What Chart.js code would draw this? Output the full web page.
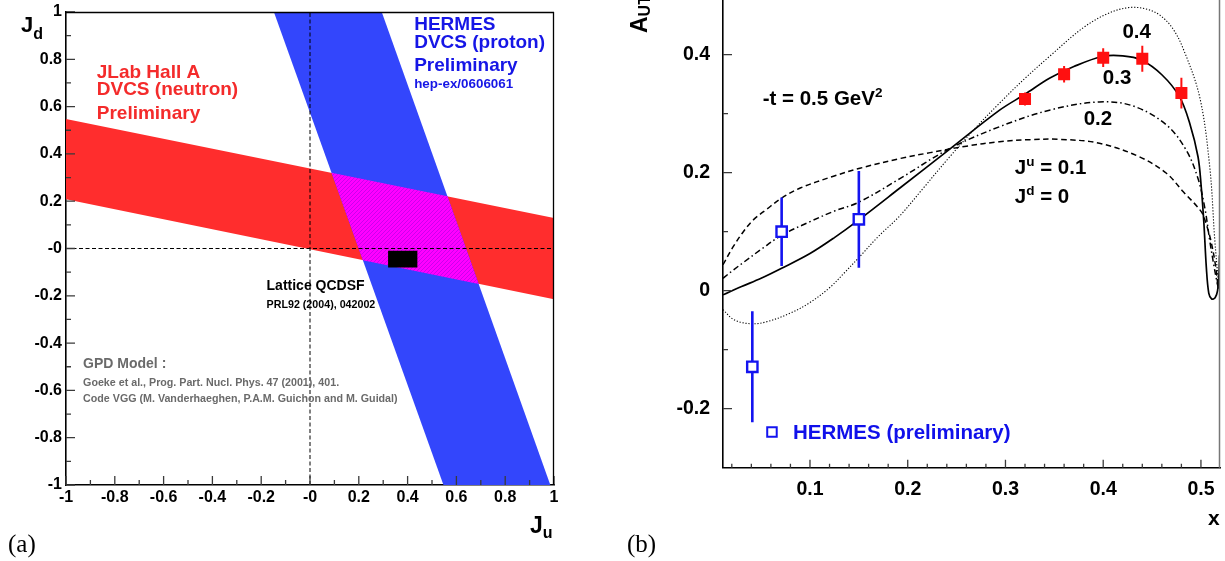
<!DOCTYPE html>
<html>
<head>
<meta charset="utf-8">
<title>DVCS constraints on Ju, Jd and A_UT versus x</title>
<script src="https://cdn.jsdelivr.net/npm/chart.js@4.4.1/dist/chart.umd.min.js"></script>
<style>
  html, body { margin: 0; padding: 0; background: #fff; }
  #page { position: relative; width: 1225px; height: 561px; overflow: hidden; }
  #panelA { position: absolute; left: 0; top: 0; }
  #panelB { position: absolute; left: 610px; top: 0; }
</style>
</head>
<body>
<div id="page">
  <canvas id="panelA" width="610" height="561"></canvas>
  <canvas id="panelB" width="615" height="561"></canvas>
</div>
<script>
const SANS = '"Liberation Sans", Arial, Helvetica, sans-serif';
const SERIF = '"Liberation Serif", "DejaVu Serif", serif';

// ---------- Panel (a): the (Ju, Jd) plane ----------
const juTicks = [-1, -0.8, -0.6, -0.4, -0.2, 0, 0.2, 0.4, 0.6, 0.8, 1];
const juTickLabels = ['-1', '-0.8', '-0.6', '-0.4', '-0.2', '-0', '0.2', '0.4', '0.6', '0.8', '1'];
const jdTicks = [-1, -0.8, -0.6, -0.4, -0.2, 0, 0.2, 0.4, 0.6, 0.8, 1];
const jdTickLabels = ['-1', '-0.8', '-0.6', '-0.4', '-0.2', '-0', '0.2', '0.4', '0.6', '0.8', '1'];

// JLab Hall A (neutron) band, edges as [Ju, Jd] at Ju = -1 and Ju = 1
const jlabUpperEdge = [[-1, 0.548], [1, 0.129]];
const jlabLowerEdge = [[-1, 0.208], [1, -0.215]];
// HERMES (proton) band, edges as [Ju, Jd] at Jd = 1 and Jd = -1
const hermesLeftEdge = [[-0.148, 1], [0.547, -1]];
const hermesRightEdge = [[0.294, 1], [0.985, -1]];
// Lattice QCDSF box
const latticeJu = [0.32, 0.44];
const latticeJd = [-0.08, -0.01];

// ---------- Panel (b): A_UT versus x at -t = 0.5 GeV^2 ----------
const xTicks = [0.1, 0.2, 0.3, 0.4, 0.5];
const xTickLabels = ['0.1', '0.2', '0.3', '0.4', '0.5'];
const autTicks = [-0.2, 0, 0.2, 0.4];
const autTickLabels = ['-0.2', '0', '0.2', '0.4'];

// HERMES (preliminary), open squares
const hermesX = [0.041, 0.071, 0.150];
const hermesAUT = [-0.129, 0.100, 0.121];
const hermesErr = [0.094, 0.058, 0.082];

// filled red squares
const solidSqX = [0.32, 0.36, 0.40, 0.44, 0.48];
const solidSqAUT = [0.325, 0.367, 0.395, 0.393, 0.335];
const solidSqErr = [0.011, 0.014, 0.016, 0.022, 0.026];

// VGG model curves, Jd = 0
const ju01X = [0.011, 0.0216, 0.0318, 0.042, 0.0557, 0.071, 0.09, 0.124, 0.151, 0.192, 0.223, 0.26, 0.294, 0.325, 0.355, 0.396, 0.437, 0.4647, 0.4817, 0.5003, 0.505, 0.510, 0.5151, 0.5175];
const ju01AUT = [0.044, 0.075, 0.100, 0.120, 0.138, 0.157, 0.174, 0.194, 0.2075, 0.224, 0.234, 0.245, 0.2525, 0.256, 0.2566, 0.25, 0.227, 0.199, 0.168, 0.134, 0.115, 0.086, 0.041, 0.005];

const ju02X = [0.011, 0.02, 0.032, 0.05, 0.071, 0.1, 0.125, 0.15, 0.192, 0.243, 0.294, 0.345, 0.396, 0.4307, 0.4647, 0.485, 0.497, 0.504, 0.509, 0.513, 0.516, 0.518];
const ju02AUT = [0.021, 0.033, 0.048, 0.07, 0.094, 0.117, 0.135, 0.15, 0.19, 0.241, 0.278, 0.306, 0.32, 0.313, 0.281, 0.238, 0.19, 0.14, 0.085, 0.045, 0.018, 0.003];

const ju03X = [0.011, 0.03, 0.05, 0.071, 0.1, 0.125, 0.15, 0.192, 0.243, 0.294, 0.32, 0.345, 0.37, 0.399, 0.42, 0.439, 0.46, 0.478, 0.4885, 0.497, 0.5003, 0.503, 0.5055, 0.508, 0.511, 0.5145, 0.517, 0.5185, 0.519];
const ju03AUT = [-0.007, 0.007, 0.021, 0.038, 0.063, 0.09, 0.12, 0.174, 0.240, 0.306, 0.333, 0.360, 0.380, 0.397, 0.398, 0.391, 0.366, 0.329, 0.284, 0.227, 0.176, 0.115, 0.04, -0.004, -0.014, -0.012, 0.0, 0.03, 0.06];

const ju04X = [0.011, 0.022, 0.039, 0.055, 0.08, 0.1, 0.12, 0.135, 0.151, 0.17, 0.192, 0.215, 0.243, 0.27, 0.294, 0.32, 0.345, 0.379, 0.405, 0.427, 0.445, 0.458, 0.47, 0.481, 0.4986, 0.509, 0.514, 0.517, 0.5185];
const ju04AUT = [-0.032, -0.049, -0.056, -0.053, -0.038, -0.02, 0.005, 0.03, 0.058, 0.092, 0.127, 0.172, 0.227, 0.277, 0.318, 0.36, 0.397, 0.445, 0.47, 0.48, 0.477, 0.467, 0.447, 0.4136, 0.329, 0.21, 0.09, 0.03, 0.003];

// ---------- helpers ----------
const pts = (xs, ys) => xs.map((x, i) => ({x, y: ys[i]}));
const toXY = pairs => pairs.map(([x, y]) => ({x, y}));

// intersection of two straight edges, each given by two [x, y] points
function cross(e1, e2) {
  const [[x1, y1], [x2, y2]] = e1, [[x3, y3], [x4, y4]] = e2;
  const d = (x1 - x2) * (y3 - y4) - (y1 - y2) * (x3 - x4);
  const a = x1 * y2 - y1 * x2, b = x3 * y4 - y3 * x4;
  return [(a * (x3 - x4) - (x1 - x2) * b) / d, (a * (y3 - y4) - (y1 - y2) * b) / d];
}

function hatchPattern() {
  const c = document.createElement('canvas');
  c.width = c.height = 4;
  const g = c.getContext('2d');
  g.fillStyle = '#ff00ff';
  g.fillRect(0, 0, 4, 4);
  g.strokeStyle = '#b400e8';
  g.lineWidth = 0.7;
  g.beginPath();
  g.moveTo(-1, 5); g.lineTo(5, -1);
  g.stroke();
  return g.createPattern(c, 'repeat');
}

function labelFor(ticks, labels) {
  return v => {
    const i = ticks.findIndex(t => Math.abs(t - v) < 1e-9);
    return i >= 0 ? labels[i] : '';
  };
}

function richText(ctx, parts, x, baseline, color, align) {
  let w = 0;
  parts.forEach(p => { ctx.font = `bold ${p[1]}px ${SANS}`; p.w = ctx.measureText(p[0]).width; w += p.w; });
  let cx = align === 'right' ? x - w : (align === 'center' ? x - w / 2 : x);
  ctx.fillStyle = color;
  ctx.textAlign = 'left';
  ctx.textBaseline = 'alphabetic';
  parts.forEach(p => {
    ctx.font = `bold ${p[1]}px ${SANS}`;
    ctx.fillText(p[0], cx, baseline + (p[2] || 0));
    cx += p.w;
  });
}

// ROOT-style ticks pointing into the frame
const innerTicks = {
  id: 'innerTicks',
  afterDraw(chart, args, o) {
    const {ctx, chartArea: a, scales: {x, y}} = chart;
    ctx.save();
    ctx.strokeStyle = '#3a3a3a';
    ctx.lineWidth = 1.3;
    ctx.beginPath();
    const xs = (vals, len) => vals.forEach(v => { const p = x.getPixelForValue(v); ctx.moveTo(p, a.bottom); ctx.lineTo(p, a.bottom - len); });
    const ys = (vals, len) => vals.forEach(v => { const p = y.getPixelForValue(v); ctx.moveTo(a.left, p); ctx.lineTo(a.left + len, p); });
    xs(o.xMajor, o.xMajorLen); xs(o.xMinor, o.xMinorLen);
    ys(o.yMajor, o.yMajorLen); ys(o.yMinor, o.yMinorLen);
    ctx.stroke();
    // frame edges not carried by an axis
    if (o.frame) {
      ctx.strokeStyle = o.frame.color;
      ctx.lineWidth = o.frame.width;
      ctx.beginPath();
      if (o.frame.top) { ctx.moveTo(a.left, a.top + 0.5); ctx.lineTo(a.right, a.top + 0.5); }
      if (o.frame.right) { ctx.moveTo(a.right - 0.5, a.top); ctx.lineTo(a.right - 0.5, a.bottom); }
      ctx.stroke();
    }
    ctx.restore();
  }
};

// text placed in data coordinates; y is the vertical centre of the capitals
const notes = {
  id: 'notes',
  afterDraw(chart, args, o) {
    const {ctx, scales: {x, y}} = chart;
    ctx.save();
    o.items.forEach(it => {
      const px = x.getPixelForValue(it.x), py = y.getPixelForValue(it.y);
      if (it.box) {
        ctx.strokeStyle = it.color;
        ctx.lineWidth = 2;
        ctx.strokeRect(px - it.box / 2, py - it.box / 2, it.box, it.box);
        return;
      }
      richText(ctx, it.parts, px, py + 0.36 * it.parts[0][1], it.color, 'left');
    });
    ctx.restore();
  }
};

// axis titles and panel tags, placed relative to the frame
const titles = {
  id: 'titles',
  afterDraw(chart, args, o) {
    const {ctx, chartArea: a} = chart;
    ctx.save();
    o.items.forEach(it => {
      const ox = it.from[0] === 'left' ? a.left : a.right;
      const oy = it.from[1] === 'top' ? a.top : a.bottom;
      if (it.serif) {
        ctx.font = `${it.size}px ${SERIF}`;
        ctx.fillStyle = '#000';
        ctx.textAlign = 'left';
        ctx.textBaseline = 'alphabetic';
        ctx.fillText(it.text, ox + it.dx, oy + it.dy);
      } else if (it.rotate) {
        ctx.save();
        ctx.translate(ox + it.dx, oy + it.dy);
        ctx.rotate(-Math.PI / 2);
        richText(ctx, it.parts, 0, 0, '#000', 'left');
        ctx.restore();
      } else {
        richText(ctx, it.parts, ox + it.dx, oy + it.dy, '#000', 'left');
      }
    });
    ctx.restore();
  }
};

// error bars drawn just before the marker dataset that carries them
const errorBars = {
  id: 'errorBars',
  beforeDatasetDraw(chart, args) {
    const ds = chart.data.datasets[args.index];
    if (!ds.errors) return;
    const {ctx, scales: {x, y}} = chart;
    ctx.save();
    ctx.strokeStyle = ds.errorColor;
    ctx.lineWidth = ds.errorWidth;
    ctx.beginPath();
    ds.data.forEach((p, i) => {
      const px = x.getPixelForValue(p.x);
      ctx.moveTo(px, y.getPixelForValue(p.y + ds.errors[i]));
      ctx.lineTo(px, y.getPixelForValue(p.y - ds.errors[i]));
    });
    ctx.stroke();
    ctx.restore();
  }
};

function range(from, to, step, skip) {
  const out = [];
  for (let v = from; v <= to + 1e-9; v += step) {
    const r = Math.round(v * 1000) / 1000;
    if (!skip.some(s => Math.abs(s - r) < 1e-9)) out.push(r);
  }
  return out;
}

// ---------- Panel (a) ----------
const overlap = [
  cross(jlabUpperEdge, hermesLeftEdge),
  cross(jlabUpperEdge, hermesRightEdge),
  cross(jlabLowerEdge, hermesRightEdge),
  cross(jlabLowerEdge, hermesLeftEdge)
];
const shape = { showLine: true, fill: 'shape', borderWidth: 0, pointRadius: 0, tension: 0 };

new Chart(document.getElementById('panelA'), {
  type: 'scatter',
  data: {
    datasets: [
      { ...shape, order: 0, fill: false, borderColor: '#000', borderWidth: 1, borderDash: [4, 2.5],
        data: [{x: -1, y: 0}, {x: 1, y: 0}] },
      { ...shape, order: 0, fill: false, borderColor: '#000', borderWidth: 1, borderDash: [4, 2.5],
        data: [{x: 0, y: -1}, {x: 0, y: 1}] },
      { ...shape, order: 1, backgroundColor: '#000',
        data: toXY([[latticeJu[0], latticeJd[1]], [latticeJu[1], latticeJd[1]], [latticeJu[1], latticeJd[0]], [latticeJu[0], latticeJd[0]], [latticeJu[0], latticeJd[1]]]) },
      { ...shape, order: 2, backgroundColor: hatchPattern(),
        data: toXY([...overlap, overlap[0]]) },
      { ...shape, order: 3, backgroundColor: '#3346fc',
        data: toXY([hermesLeftEdge[0], hermesRightEdge[0], hermesRightEdge[1], hermesLeftEdge[1], hermesLeftEdge[0]]) },
      { ...shape, order: 4, backgroundColor: '#ff2d2d',
        data: toXY([jlabUpperEdge[0], jlabUpperEdge[1], jlabLowerEdge[1], jlabLowerEdge[0], jlabUpperEdge[0]]) }
    ]
  },
  options: {
    responsive: false,
    animation: false,
    events: [],
    layout: { autoPadding: false, padding: { left: 0, top: 12, right: 56, bottom: 0 } },
    plugins: {
      legend: { display: false },
      tooltip: { enabled: false },
      innerTicks: {
        xMajor: juTicks, xMinor: range(-0.9, 0.9, 0.2, []), xMajorLen: 9, xMinorLen: 5,
        yMajor: jdTicks, yMinor: range(-0.9, 0.9, 0.2, []), yMajorLen: 9, yMinorLen: 5,
        frame: { top: true, right: true, color: '#000', width: 1.3 }
      },
      notes: {
        items: [
          { x: -0.874, y: 0.751, color: '#f42b2b', parts: [['JLab Hall A', 19]] },
          { x: -0.874, y: 0.677, color: '#f42b2b', parts: [['DVCS (neutron)', 19]] },
          { x: -0.874, y: 0.577, color: '#f42b2b', parts: [['Preliminary', 19]] },
          { x: 0.427, y: 0.953, color: '#1616e6', parts: [['HERMES', 19]] },
          { x: 0.427, y: 0.877, color: '#1616e6', parts: [['DVCS (proton)', 19]] },
          { x: 0.427, y: 0.780, color: '#1616e6', parts: [['Preliminary', 19]] },
          { x: 0.427, y: 0.697, color: '#1616e6', parts: [['hep-ex/0606061', 13.4]] },
          { x: -0.178, y: -0.154, color: '#000', parts: [['Lattice QCDSF', 14]] },
          { x: -0.178, y: -0.2355, color: '#000', parts: [['PRL92 (2004), 042002', 10.7]] },
          { x: -0.930, y: -0.4835, color: '#6a6a6a', parts: [['GPD Model :', 14]] },
          { x: -0.930, y: -0.563, color: '#6a6a6a', parts: [['Goeke et al., Prog. Part. Nucl. Phys. 47 (2001), 401.', 10.7]] },
          { x: -0.930, y: -0.633, color: '#6a6a6a', parts: [['Code VGG (M. Vanderhaeghen, P.A.M. Guichon and M. Guidal)', 10.7]] }
        ]
      },
      titles: {
        items: [
          { from: ['left', 'top'], dx: -45, dy: 19.7, parts: [['J', 22], ['d', 16, 7]] },
          { from: ['right', 'bottom'], dx: -24, dy: 48, parts: [['J', 23], ['u', 16, 5]] },
          { from: ['left', 'bottom'], dx: -58, dy: 67, serif: true, size: 25, text: '(a)' }
        ]
      }
    },
    scales: {
      x: {
        type: 'linear', min: -1, max: 1, z: 1,
        grid: { display: false, drawTicks: false },
        border: { color: '#000', width: 1.6 },
        afterBuildTicks: s => { s.ticks = juTicks.map(v => ({value: v})); },
        afterFit: s => { s.height = 76; s.paddingLeft = 0; s.paddingRight = 0; },
        ticks: { padding: 3, color: '#000', maxRotation: 0, autoSkip: false,
                 font: { family: SANS, size: 16, weight: 'bold' },
                 callback: labelFor(juTicks, juTickLabels) }
      },
      y: {
        type: 'linear', min: -1, max: 1, z: 1,
        grid: { display: false, drawTicks: false },
        border: { color: '#000', width: 1.6 },
        afterBuildTicks: s => { s.ticks = jdTicks.map(v => ({value: v})); },
        afterFit: s => { s.width = 66; s.paddingTop = 0; s.paddingBottom = 0; },
        ticks: { padding: 4, color: '#000', autoSkip: false,
                 font: { family: SANS, size: 16, weight: 'bold' },
                 callback: labelFor(jdTicks, jdTickLabels) }
      }
    }
  },
  plugins: [innerTicks, notes, titles]
});

// ---------- Panel (b) ----------
const curve = { showLine: true, fill: false, pointRadius: 0, tension: 0.35, borderColor: '#000' };

new Chart(document.getElementById('panelB'), {
  type: 'scatter',
  data: {
    datasets: [
      { label: 'HERMES (preliminary)', data: pts(hermesX, hermesAUT), errors: hermesErr,
        errorColor: '#1414f0', errorWidth: 2.6,
        pointStyle: 'rect', pointRadius: 7.3, backgroundColor: '#fff', borderColor: '#1414f0', borderWidth: 2.4 },
      { label: 'filled squares', data: pts(solidSqX, solidSqAUT), errors: solidSqErr,
        errorColor: '#ff1010', errorWidth: 2,
        pointStyle: 'rect', pointRadius: 8.5, backgroundColor: '#ff1010', borderWidth: 0 },
      { ...curve, label: 'Ju = 0.1', data: pts(ju01X, ju01AUT), borderWidth: 1.5, borderDash: [5.5, 3.5] },
      { ...curve, label: 'Ju = 0.2', data: pts(ju02X, ju02AUT), borderWidth: 1.5, borderDash: [6, 3, 1.5, 3] },
      { ...curve, label: 'Ju = 0.3', data: pts(ju03X, ju03AUT), borderWidth: 1.7 },
      { ...curve, label: 'Ju = 0.4', data: pts(ju04X, ju04AUT), borderWidth: 1.1, borderDash: [1.2, 1.8] }
    ]
  },
  options: {
    responsive: false,
    animation: false,
    events: [],
    layout: { autoPadding: false, padding: { left: 0, top: 0, right: 5, bottom: 0 } },
    plugins: {
      legend: { display: false },
      tooltip: { enabled: false },
      innerTicks: {
        xMajor: xTicks, xMinor: range(0.02, 0.5, 0.02, xTicks), xMajorLen: 8, xMinorLen: 4,
        yMajor: autTicks, yMinor: [-0.1, 0.1, 0.3], yMajorLen: 9, yMinorLen: 5,
        frame: { right: true, color: '#777', width: 1.5 }
      },
      notes: {
        items: [
          { x: 0.0516, y: 0.328, color: '#000', parts: [['-t = 0.5 GeV', 20.5], ['2', 13.5, -8]] },
          { x: 0.4197, y: 0.440, color: '#000', parts: [['0.4', 20.5]] },
          { x: 0.3996, y: 0.362, color: '#000', parts: [['0.3', 20.5]] },
          { x: 0.3800, y: 0.2927, color: '#000', parts: [['0.2', 20.5]] },
          { x: 0.3096, y: 0.211, color: '#000', parts: [['J', 20.5], ['u', 13.5, -8], [' = 0.1', 20.5]] },
          { x: 0.3096, y: 0.1605, color: '#000', parts: [['J', 20.5], ['d', 13.5, -8], [' = 0', 20.5]] },
          { x: 0.0611, y: -0.2395, color: '#1414f0', box: 9.5 },
          { x: 0.0826, y: -0.2395, color: '#1010ea', parts: [['HERMES (preliminary)', 20.5]] }
        ]
      },
      titles: {
        items: [
          { from: ['left', 'top'], dx: -76.3, dy: 33, rotate: true, parts: [['A', 23], ['UT', 16, 3]] },
          { from: ['right', 'bottom'], dx: -12, dy: 57.3, parts: [['x', 21]] },
          { from: ['left', 'bottom'], dx: -96, dy: 84.3, serif: true, size: 25, text: '(b)' }
        ]
      }
    },
    scales: {
      x: {
        type: 'linear', min: 0.011, max: 0.5195, z: 1,
        grid: { display: false, drawTicks: false },
        border: { color: '#000', width: 1.6 },
        afterBuildTicks: s => { s.ticks = xTicks.map(v => ({value: v})); },
        afterFit: s => { s.height = 561 - 467.7; s.paddingLeft = 0; s.paddingRight = 0; },
        ticks: { padding: 10, color: '#000', maxRotation: 0, autoSkip: false,
                 font: { family: SANS, size: 19.5, weight: 'bold' },
                 callback: labelFor(xTicks, xTickLabels) }
      },
      y: {
        type: 'linear', min: -0.3, max: 0.4927, z: 1,
        grid: { display: false, drawTicks: false },
        border: { color: '#000', width: 1.6 },
        afterBuildTicks: s => { s.ticks = autTicks.map(v => ({value: v})); },
        afterFit: s => { s.width = 113; s.paddingTop = 0; s.paddingBottom = 0; },
        ticks: { padding: 13, color: '#000', autoSkip: false,
                 font: { family: SANS, size: 19.5, weight: 'bold' },
                 callback: labelFor(autTicks, autTickLabels) }
      }
    }
  },
  plugins: [innerTicks, notes, titles, errorBars]
});
</script>
</body>
</html>
